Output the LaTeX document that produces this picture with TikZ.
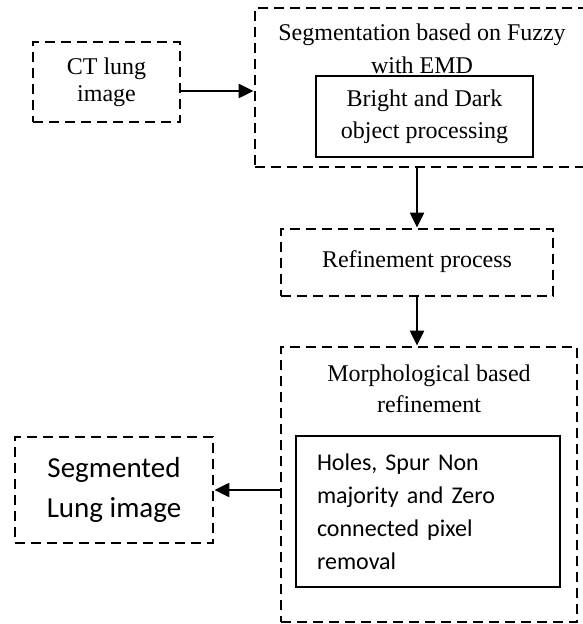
\documentclass[tikz,border=0pt]{standalone}
\usepackage{fontspec}
\setmainfont{Liberation Serif}
\newfontfamily\calibrifont{Carlito}
\usetikzlibrary{positioning, arrows.meta}

\begin{document}
\begin{tikzpicture}[x=0.5pt, y=-0.5pt,
        outer/.style = {rectangle, draw, dash pattern=on 5pt off 3pt, line width=1.4pt, inner sep=0pt, align=center},
        block/.style = {rectangle, draw, line width=0.9pt, inner sep=0pt, align=center},
        title/.style = {align=center, inner sep=0pt},
        arrow/.style = {draw, line width=1.1pt, -{Triangle[length=7.5pt, width=7pt]}} % connectors
    ]
    \useasboundingbox (0,0) rectangle (582,624);

    % --- Input ---
    \node[outer, minimum width=73.5pt, minimum height=40pt, font=\fontsize{12}{13.5}\selectfont] (ct) at (106.5,82) {CT lung\\image};

    % --- Segmentation stage ---
    \node[outer, minimum width=167.5pt, minimum height=79.5pt] (seg) at (422.5,87.5) {};
    \node[title, font=\fontsize{12}{16.5}\selectfont] (seg_title) at (422,49) {Segmentation based on Fuzzy\\with EMD};
    \node[block, minimum width=108.5pt, minimum height=40.5pt, font=\fontsize{12}{16}\selectfont] (bright) at (424.5,116.5) {Bright and Dark\\object processing};

    % --- Refinement ---
    \node[outer, minimum width=136pt, minimum height=33.5pt, font=\fontsize{12}{14}\selectfont] (refine) at (417,262.5) {\raisebox{3.5pt}{Refinement process}};

    % --- Morphological stage ---
    \node[outer, minimum width=148pt, minimum height=137.5pt] (morph) at (429,484.5) {};
    \node[title, font=\fontsize{12}{15.5}\selectfont] (morph_title) at (429,389) {Morphological based\\refinement};
    \node[block, minimum width=132pt, minimum height=75.5pt, inner xsep=10.5pt, text width=111pt, align=left,
          font=\calibrifont\fontsize{12}{16.5}\selectfont] (holes) at (428,511.5)
          {Holes, Spur Non\\majority and Zero\\connected pixel\\removal};

    % --- Output ---
    \node[outer, minimum width=99pt, minimum height=53pt, font=\calibrifont\fontsize{14.5}{20}\selectfont] (seg_lung) at (114,490) {Segmented\\Lung image};

    % Arrows
    \draw[arrow] ([yshift=-4.5pt]ct.east) -- ([yshift=-4.5pt]ct.east -| seg.west);
    \draw[arrow] (refine.north |- seg.south) -- (refine.north);
    \draw[arrow] (refine.south) -- (refine.south |- morph.north);
    \draw[arrow] (seg_lung.east -| morph.west) -- (seg_lung.east);

\end{tikzpicture}
\end{document}
